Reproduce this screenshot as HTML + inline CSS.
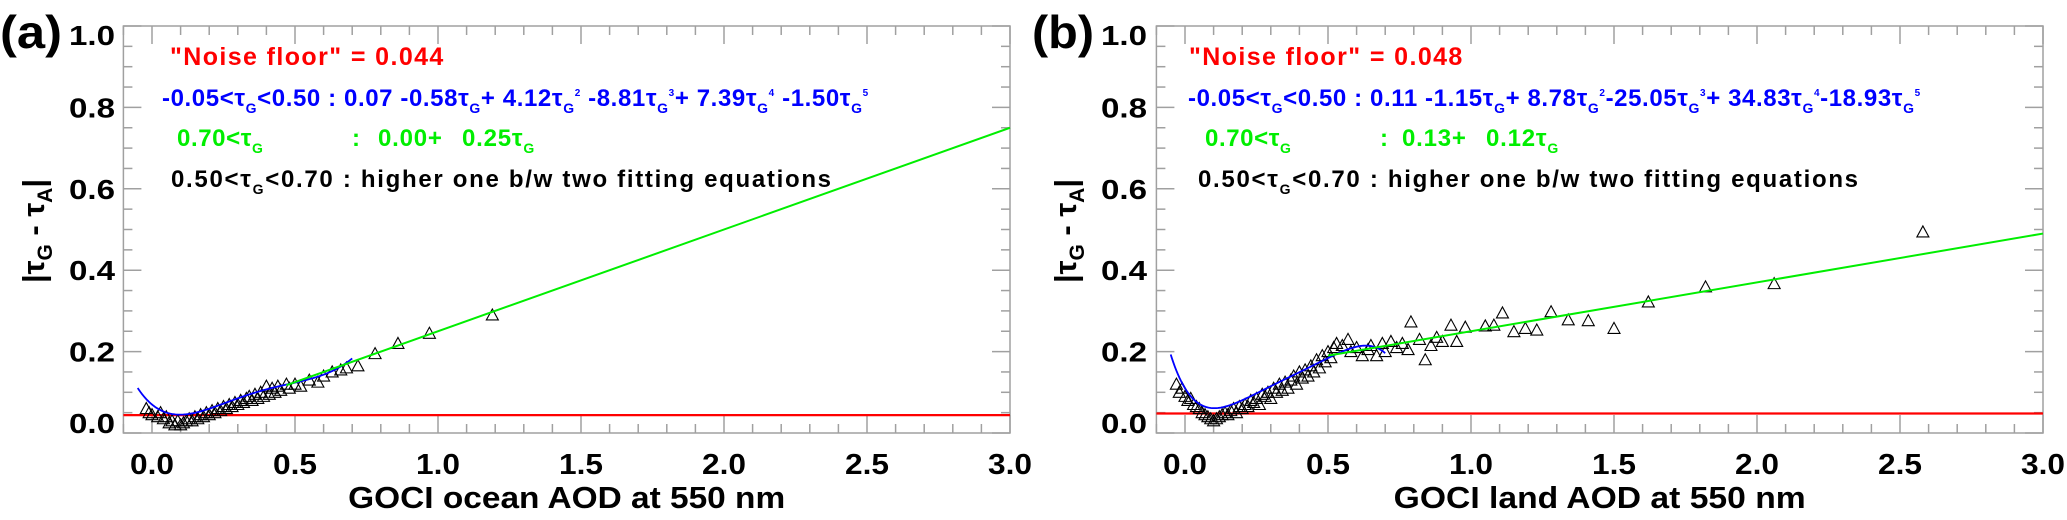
<!DOCTYPE html>
<html><head><meta charset="utf-8">
<style>
html,body{margin:0;padding:0;background:#fff;}
svg{display:block;font-family:"Liberation Sans",sans-serif;font-weight:bold;}
</style></head>
<body>
<svg id="fig" width="2067" height="520" viewBox="0 0 2067 520" xmlns="http://www.w3.org/2000/svg"></svg>
<script>
// ---------- data ----------
const xTicks = [0.0, 0.5, 1.0, 1.5, 2.0, 2.5, 3.0];
const xTickLabels = ["0.0","0.5","1.0","1.5","2.0","2.5","3.0"];
const yTicks = [0.0, 0.2, 0.4, 0.6, 0.8, 1.0];
const yTickLabels = ["0.0","0.2","0.4","0.6","0.8","1.0"];

const oceanX = [-0.02,-0.01,0.0,0.02,0.03,0.04,0.05,0.06,0.07,0.08,0.09,0.10,0.11,0.12,0.13,0.14,0.15,0.16,0.17,0.18,0.19,0.20,0.21,0.22,0.23,0.24,0.25,0.26,0.27,0.28,0.29,0.30,0.31,0.32,0.33,0.34,0.35,0.36,0.37,0.38,0.39,0.40,0.41,0.42,0.43,0.44,0.45,0.47,0.48,0.50,0.52,0.55,0.58,0.60,0.63,0.66,0.68,0.72,0.78,0.86,0.97,1.19];
const oceanY = [0.06,0.05,0.045,0.04,0.05,0.035,0.04,0.025,0.03,0.02,0.03,0.02,0.025,0.03,0.035,0.03,0.04,0.035,0.045,0.04,0.05,0.045,0.055,0.05,0.06,0.055,0.065,0.06,0.07,0.065,0.075,0.07,0.08,0.075,0.085,0.09,0.08,0.095,0.085,0.10,0.09,0.115,0.095,0.11,0.10,0.115,0.105,0.12,0.11,0.12,0.115,0.13,0.125,0.14,0.15,0.155,0.16,0.165,0.195,0.22,0.245,0.29];

const landX = [-0.03,-0.02,-0.01,0.0,0.01,0.02,0.03,0.04,0.05,0.06,0.07,0.08,0.09,0.10,0.11,0.12,0.13,0.14,0.15,0.16,0.17,0.18,0.19,0.20,0.21,0.22,0.23,0.24,0.25,0.26,0.27,0.28,0.29,0.30,0.31,0.32,0.33,0.34,0.35,0.36,0.37,0.38,0.39,0.40,0.41,0.42,0.43,0.44,0.45,0.46,0.47,0.48,0.49,0.50,0.51,0.52,0.53,0.55,0.57,0.58,0.60,0.62,0.64,0.65,0.67,0.69,0.70,0.72,0.74,0.76,0.78,0.79,0.82,0.84,0.86,0.88,0.90,0.93,0.95,0.98,1.05,1.08,1.11,1.15,1.19,1.23,1.28,1.34,1.41,1.50,1.62,1.82,2.06,2.58];
const landY = [0.12,0.10,0.11,0.09,0.08,0.085,0.07,0.065,0.06,0.05,0.045,0.04,0.035,0.03,0.035,0.04,0.045,0.05,0.045,0.055,0.06,0.05,0.065,0.06,0.07,0.065,0.08,0.075,0.085,0.07,0.095,0.09,0.10,0.085,0.11,0.10,0.12,0.105,0.125,0.11,0.13,0.14,0.12,0.15,0.135,0.155,0.14,0.165,0.15,0.18,0.16,0.19,0.175,0.20,0.185,0.21,0.22,0.215,0.23,0.20,0.21,0.19,0.205,0.215,0.19,0.22,0.20,0.225,0.21,0.22,0.205,0.273,0.23,0.18,0.215,0.235,0.225,0.265,0.225,0.26,0.263,0.265,0.295,0.249,0.257,0.253,0.298,0.278,0.276,0.257,0.322,0.359,0.367,0.494];

const oceanPoly = [0.07,-0.58,4.12,-8.81,7.39,-1.50];
const landPoly = [0.11,-1.15,8.78,-25.05,34.83,-18.93];
const oceanLin = [0.00,0.25];
const landLin = [0.13,0.12];
const noiseFloor = [0.044, 0.048];

// ---------- drawing ----------
const NS = "http://www.w3.org/2000/svg";
const svg = document.getElementById('fig');
function mk(tag, attrs, parent){
  const e = document.createElementNS(NS, tag);
  for (const k in attrs) e.setAttribute(k, attrs[k]);
  (parent||svg).appendChild(e);
  return e;
}

const panels = [
  {off:0, x0:152, label:"(a)", xt:"GOCI ocean AOD at 550 nm", xtW:437, px:oceanX, py:oceanY, poly:oceanPoly, lin:oceanLin, nf:noiseFloor[0], linStart:0.47,
   tx:{red:170, blue:162, g1:177, gc:352, g2:378, g3:462, blk:171}, ylabR:115, nfTxt:"0.044", name:"panel-a"},
  {off:1032, x0:1185, label:"(b)", xt:"GOCI land AOD at 550 nm", xtW:412, px:landX, py:landY, poly:landPoly, lin:landLin, nf:noiseFloor[1], linStart:0.5,
   tx:{red:1189, blue:1188, g1:1205, gc:1380, g2:1402, g3:1486, blk:1198}, ylabR:1147, nfTxt:"0.048", name:"panel-b"}
];

const Y0 = 433, YPU = 407, XPU = 286;

panels.forEach((p, pi) => {
  const g = mk('g', {});
  
  
  const X = v => p.x0 + v*XPU;
  const Y = v => Y0 - v*YPU;
  const L = X(-0.1), R = X(3.0), T = Y(1.0), B = Y(0);

  const lab = mk('text', {x: p.off + 0, y: 48, 'font-size': 46, textLength: 62, lengthAdjust:'spacingAndGlyphs'}, g);
  lab.textContent = p.label;
  
  

  const fr = mk('rect', {x:L, y:T, width:R-L, height:B-T, fill:'none', stroke:'#a0a0a0', 'stroke-width':1.5}, g);
  
  

  const tg = mk('g', {stroke:'#a0a0a0', 'stroke-width':1.5}, g);
  
  
  for (let i = -1; i <= 30; i++) {
    const v = i/10, x = X(v);
    const len = (i % 5 === 0) ? 18 : 9;
    mk('line', {x1:x, y1:B, x2:x, y2:B-len}, tg);
    mk('line', {x1:x, y1:T, x2:x, y2:T+len}, tg);
  }
  for (let i = 0; i <= 20; i++) {
    const v = i/20, y = Y(v);
    const len = (i % 4 === 0) ? 18 : 9;
    mk('line', {x1:L, y1:y, x2:L+len, y2:y}, tg);
    mk('line', {x1:R, y1:y, x2:R-len, y2:y}, tg);
  }

  xTicks.forEach((v, i) => {
    const t = mk('text', {x:X(v)-22, y:474, 'font-size':29, textLength:44, lengthAdjust:'spacingAndGlyphs'}, g);
    t.textContent = xTickLabels[i];
    
    
  });
  yTicks.forEach((v, i) => {
    let cy = Y(v);
    if (v === 0) cy -= 10;
    if (v === 1.0) cy += 9;
    const t = mk('text', {x:p.ylabR-46, y:cy+10, 'font-size':28, textLength:46, lengthAdjust:'spacingAndGlyphs'}, g);
    t.textContent = yTickLabels[i];
    
    
  });

  const xt = mk('text', {x:(L+R)/2 - p.xtW/2, y:508, 'font-size':31, textLength:p.xtW, lengthAdjust:'spacingAndGlyphs'}, g);
  xt.textContent = p.xt;
  
  

  const yt = mk('text', {x:0, y:0, 'font-size':31, 'text-anchor':'middle', transform:`translate(${p.off+44},231) rotate(-90)`}, g);
  
  
  yt.innerHTML = '|τ<tspan font-size="21" baseline-shift="-8">G</tspan> - τ<tspan font-size="21" baseline-shift="-8">A</tspan>|';

  const nl = mk('line', {x1:L, y1:Y(p.nf), x2:R, y2:Y(p.nf), stroke:'#ff0000', 'stroke-width':2.2}, g);
  
  

  const pg = mk('g', {fill:'none', stroke:'#000', 'stroke-width':1.1}, g);
  
  
  p.px.forEach((xv, i) => {
    const cx = X(xv), cy = Y(p.py[i]);
    const tri = mk('path', {d:`M${cx-6},${cy+5} L${cx+6},${cy+5} L${cx},${cy-6} Z`}, pg);
    
    
  });

  let d = '';
  for (let i = 0; i <= 150; i++) {
    const xv = -0.05 + i*(0.75/150);
    let yv = 0;
    p.poly.forEach((c, k) => { yv += c*Math.pow(xv, k); });
    d += (i ? 'L' : 'M') + X(xv).toFixed(2) + ',' + Y(yv).toFixed(2);
  }
  const pl = mk('path', {d, fill:'none', stroke:'#0000ff', 'stroke-width':1.8}, g);
  
  

  const ll = mk('line', {x1:X(p.linStart), y1:Y(p.lin[0]+p.lin[1]*p.linStart), x2:R, y2:Y(p.lin[0]+p.lin[1]*3.0), stroke:'#00ee00', 'stroke-width':2}, g);
  
  

  const tx = p.tx;
  const sub = (s) => `<tspan font-size="14" baseline-shift="-7">${s}</tspan>`;
  const sup = (s) => `<tspan font-size="10" baseline-shift="10">${s}</tspan>`;
  const tG = 'τ' + sub('G');

  const r = mk('text', {x:tx.red, y:65, 'font-size':25, fill:'#ff0000', 'letter-spacing':1.4}, g);
  
  
  r.textContent = '"Noise floor" = ' + p.nfTxt;

  const c = p.poly.map(v => Math.abs(v).toFixed(2));
  const sg = p.poly.map(v => v < 0 ? '-' : '+');
  let blueHtml;
  if (pi === 0) {
    blueHtml = `-0.05&lt;${tG}&lt;0.50 : ${c[0]} ${sg[1]}${c[1]}${tG}+ ${c[2]}${tG}${sup('2')} ${sg[3]}${c[3]}${tG}${sup('3')}+ ${c[4]}${tG}${sup('4')} ${sg[5]}${c[5]}${tG}${sup('5')}`;
  } else {
    blueHtml = `-0.05&lt;${tG}&lt;0.50 : ${c[0]} ${sg[1]}${c[1]}${tG}+ ${c[2]}${tG}${sup('2')}${sg[3]}${c[3]}${tG}${sup('3')}+ ${c[4]}${tG}${sup('4')}${sg[5]}${c[5]}${tG}${sup('5')}`;
  }
  const b = mk('text', {x:tx.blue, y:106, 'font-size':24, fill:'#0000ff', 'letter-spacing':0.6}, g);
  
  
  b.innerHTML = blueHtml;

  const g1 = mk('text', {x:tx.g1, y:146, 'font-size':24, fill:'#00ee00', 'letter-spacing':0.6}, g);
  
  
  g1.innerHTML = `0.70&lt;${tG}`;
  const gc = mk('text', {x:tx.gc, y:146, 'font-size':24, fill:'#00ee00'}, g);
  
  
  gc.textContent = ':';
  const g2 = mk('text', {x:tx.g2, y:146, 'font-size':24, fill:'#00ee00', 'letter-spacing':0.8}, g);
  
  
  g2.textContent = `${p.lin[0].toFixed(2)}+`;
  const g3 = mk('text', {x:tx.g3, y:146, 'font-size':24, fill:'#00ee00', 'letter-spacing':0.8}, g);
  
  
  g3.innerHTML = `${p.lin[1].toFixed(2)}${tG}`;

  const k = mk('text', {x:tx.blk, y:187, 'font-size':24, fill:'#000', 'letter-spacing':1.7}, g);
  
  
  k.innerHTML = `0.50&lt;${tG}&lt;0.70 : higher one b/w two fitting equations`;
});
</script>
</body></html>
